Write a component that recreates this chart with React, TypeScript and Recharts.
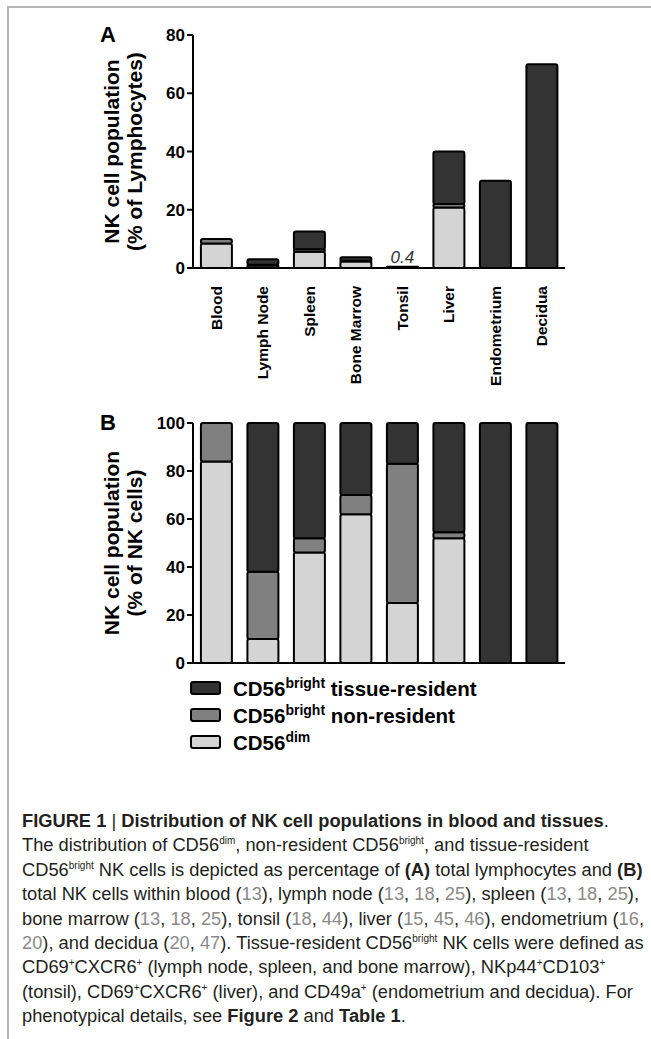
import React from 'react';
import { BarChart, Bar, XAxis, YAxis, LabelList } from 'recharts';

const tissues = ['Blood', 'Lymph Node', 'Spleen', 'Bone Marrow', 'Tonsil', 'Liver', 'Endometrium', 'Decidua'];

// panel A: % of lymphocytes
const lymphDim = [8.4, 0.3, 5.6, 2.2, 0.1, 20.8, 0, 0];
const lymphNonRes = [1.6, 0.85, 0.8, 0.3, 0.23, 1.2, 0, 0];
const lymphTissue = [0, 1.85, 6.1, 1.2, 0.07, 18, 30, 70];
const lymphTopLabel = ['', '', '', '', '0.4', '', '', ''];

// panel B: % of NK cells
const nkDim = [84, 10, 46, 62, 25, 52, 0, 0];
const nkNonRes = [16, 28, 6, 8, 58, 2.5, 0, 0];
const nkTissue = [0, 62, 48, 30, 17, 45.5, 100, 100];

const ticksA = [0, 20, 40, 60, 80];
const ticksB = [0, 20, 40, 60, 80, 100];

const seriesNames = ['tissue-resident', 'non-resident', 'dim'];
const COLORS = { tissue: '#333333', nonres: '#808080', dim: '#d4d4d4' };

const dataA = tissues.map((t, i) => ({
  tissue: t,
  dim: lymphDim[i],
  nonres: lymphNonRes[i],
  res: lymphTissue[i],
  label: lymphTopLabel[i],
}));

const dataB = tissues.map((t, i) => ({
  tissue: t,
  dim: nkDim[i],
  nonres: nkNonRes[i],
  res: nkTissue[i],
}));

const FONT = '"Liberation Sans", Arial, sans-serif';

function CategoryTick({ x, y, payload }: any) {
  return (
    <text
      transform={`translate(${x},${y + 10}) rotate(-90)`}
      textAnchor="end"
      dominantBaseline="central"
      fontSize={15.5}
      fontWeight="bold"
      fill="#000"
    >
      {payload.value}
    </text>
  );
}

function axisTitle(line2: string) {
  return ({ viewBox }: any) => {
    const cy = viewBox.y + viewBox.height / 2;
    return (
      <g fontSize={21} fontWeight="bold" fill="#000">
        <text
          transform={`translate(${viewBox.x - 22},${cy}) rotate(-90)`}
          textAnchor="middle"
          dominantBaseline="central"
        >
          NK cell population
        </text>
        <text
          transform={`translate(${viewBox.x + 1},${cy}) rotate(-90)`}
          textAnchor="middle"
          dominantBaseline="central"
        >
          {line2}
        </text>
      </g>
    );
  };
}

const barProps = {
  stackId: 's',
  stroke: '#000',
  strokeWidth: 2,
  radius: 2 as number,
  isAnimationActive: false,
};

const tickStyle = { fill: '#000', fontSize: 17, fontWeight: 'bold' as const };

function Ref({ n }: { n: string }) {
  return <span style={{ color: '#8a8a8a' }}>{n}</span>;
}

function Sup({ t }: { t: string }) {
  return <sup style={{ fontSize: 10, lineHeight: 0 }}>{t}</sup>;
}

export default function App() {
  return (
    <div
      style={{
        position: 'absolute',
        left: 0,
        top: 0,
        width: 651,
        height: 1039,
        background: '#fff',
        fontFamily: FONT,
        overflow: 'hidden',
      }}
    >
      <div
        style={{
          position: 'absolute',
          left: 7,
          top: 6,
          width: 650,
          height: 1040,
          borderTop: '2px solid #b5b5b5',
          borderLeft: '2px solid #b5b5b5',
        }}
      />

      <div style={{ position: 'absolute', left: 100, top: 22, fontSize: 22, fontWeight: 'bold' }}>A</div>
      <div style={{ position: 'absolute', left: 100, top: 410, fontSize: 22, fontWeight: 'bold' }}>B</div>

      <div style={{ position: 'absolute', left: 0, top: 0 }}>
        <BarChart
          width={600}
          height={395}
          data={dataA}
          margin={{ top: 35, right: 35, left: 133, bottom: 0 }}
          barCategoryGap="17%"
        >
          <XAxis
            dataKey="tissue"
            interval={0}
            height={127}
            tickLine={false}
            axisLine={{ stroke: '#000', strokeWidth: 2 }}
            tick={<CategoryTick />}
          />
          <YAxis
            domain={[0, 80]}
            ticks={ticksA}
            width={60}
            tick={tickStyle}
            tickSize={6}
            tickLine={{ stroke: '#000', strokeWidth: 2 }}
            axisLine={{ stroke: '#000', strokeWidth: 2 }}
            label={{ content: axisTitle('(% of Lymphocytes)') }}
          />
          <Bar dataKey="dim" fill={COLORS.dim} {...barProps} />
          <Bar dataKey="nonres" fill={COLORS.nonres} {...barProps} />
          <Bar dataKey="res" fill={COLORS.tissue} {...barProps}>
            <LabelList
              dataKey="label"
              position="top"
              offset={4}
              style={{ fontSize: 17, fontStyle: 'italic', fill: '#333' }}
            />
          </Bar>
        </BarChart>
      </div>

      <div style={{ position: 'absolute', left: 0, top: 380 }}>
        <BarChart
          width={600}
          height={300}
          data={dataB}
          margin={{ top: 43, right: 35, left: 133, bottom: 0 }}
          barCategoryGap="17%"
        >
          <XAxis
            dataKey="tissue"
            height={17}
            tick={false}
            tickLine={false}
            axisLine={{ stroke: '#000', strokeWidth: 2 }}
          />
          <YAxis
            domain={[0, 100]}
            ticks={ticksB}
            width={60}
            tick={tickStyle}
            tickSize={6}
            tickLine={{ stroke: '#000', strokeWidth: 2 }}
            axisLine={{ stroke: '#000', strokeWidth: 2 }}
            label={{ content: axisTitle('(% of NK cells)') }}
          />
          <Bar dataKey="dim" fill={COLORS.dim} {...barProps} />
          <Bar dataKey="nonres" fill={COLORS.nonres} {...barProps} />
          <Bar dataKey="res" fill={COLORS.tissue} {...barProps} />
        </BarChart>
      </div>

      <div style={{ position: 'absolute', left: 190, top: 674 }}>
        {seriesNames.map((name, i) => {
          const fill = [COLORS.tissue, COLORS.nonres, COLORS.dim][i];
          return (
            <div key={name} style={{ display: 'flex', alignItems: 'center', height: 27 }}>
              <svg width={32} height={16} style={{ marginRight: 11 }}>
                <rect x={1} y={2} width={29} height={12} rx={2} fill={fill} stroke="#000" strokeWidth={2} />
              </svg>
              <span style={{ fontSize: 20.5, fontWeight: 'bold', whiteSpace: 'nowrap' }}>
                CD56
                <sup style={{ fontSize: 14 }}>{name === 'dim' ? 'dim' : 'bright'}</sup>
                {name === 'dim' ? '' : ' ' + name}
              </span>
            </div>
          );
        })}
      </div>

      <div
        style={{
          position: 'absolute',
          left: 22,
          top: 809,
          fontSize: 18.3,
          lineHeight: '24.4px',
          color: '#231f20',
          whiteSpace: 'nowrap',
        }}
      >
        <div>
          <b>FIGURE 1</b> | <b>Distribution of NK cell populations in blood and tissues</b>.
        </div>
        <div>
          The distribution of CD56<Sup t="dim" />, non-resident CD56<Sup t="bright" />, and tissue-resident
        </div>
        <div>
          CD56<Sup t="bright" /> NK cells is depicted as percentage of <b>(A)</b> total lymphocytes and <b>(B)</b>
        </div>
        <div>
          total NK cells within blood (<Ref n="13" />), lymph node (<Ref n="13" />, <Ref n="18" />, <Ref n="25" />),
          spleen (<Ref n="13" />, <Ref n="18" />, <Ref n="25" />),
        </div>
        <div>
          bone marrow (<Ref n="13" />, <Ref n="18" />, <Ref n="25" />), tonsil (<Ref n="18" />, <Ref n="44" />), liver
          (<Ref n="15" />, <Ref n="45" />, <Ref n="46" />), endometrium (<Ref n="16" />,
        </div>
        <div>
          <Ref n="20" />), and decidua (<Ref n="20" />, <Ref n="47" />). Tissue-resident CD56<Sup t="bright" /> NK
          cells were defined as
        </div>
        <div>
          CD69<Sup t="+" />CXCR6<Sup t="+" /> (lymph node, spleen, and bone marrow), NKp44<Sup t="+" />CD103
          <Sup t="+" />
        </div>
        <div>
          (tonsil), CD69<Sup t="+" />CXCR6<Sup t="+" /> (liver), and CD49a<Sup t="+" /> (endometrium and decidua). For
        </div>
        <div>
          phenotypical details, see <b>Figure 2</b> and <b>Table 1</b>.
        </div>
      </div>
    </div>
  );
}
